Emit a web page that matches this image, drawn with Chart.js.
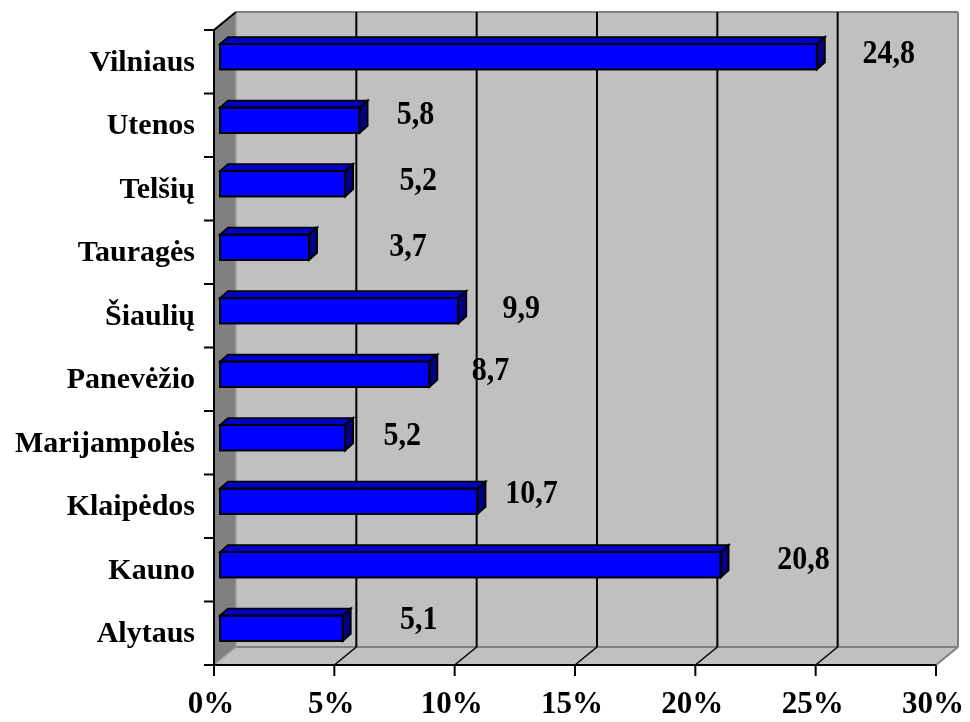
<!DOCTYPE html>
<html>
<head>
<meta charset="utf-8">
<script src="https://cdn.jsdelivr.net/npm/chart.js@4/dist/chart.umd.min.js"></script>
<style>
  html, body { margin: 0; padding: 0; background: #ffffff; }
  #wrap { width: 970px; height: 722px; }
</style>
</head>
<body>
<div id="wrap"><canvas id="c" width="970" height="722"></canvas></div>
<script>
// ---- data (top to bottom as drawn) ----
const regions = ["Vilniaus", "Utenos", "Telšių", "Tauragės", "Šiaulių", "Panevėžio", "Marijampolės", "Klaipėdos", "Kauno", "Alytaus"];
const shares  = [24.8, 5.8, 5.2, 3.7, 9.9, 8.7, 5.2, 10.7, 20.8, 5.1];
const axisMin = 0;
const axisMax = 30;
const axisStep = 5;

const FONT = '"Liberation Serif", "Times New Roman", serif';

// 3D look: bar plane sits slightly behind the front plane
const FRONT = { dx: -6, dy: 5 };   // front plane relative to bar plane
const BACK  = { dx: 16, dy: -13 }; // back wall relative to bar plane
const BAR_D = { dx: 8, dy: -7 };   // bar depth

// per-label nudges relative to bar end (label placement in original)
const labelNudge = [[72,-3],[56,-5],[73,-3],[99,0],[63,-2],[61,-3],[57,-2],[54,-7],[83,-5],[76,-8]];

function poly(ctx, pts, fill, stroke, lw) {
  ctx.beginPath();
  ctx.moveTo(pts[0][0], pts[0][1]);
  for (let i = 1; i < pts.length; i++) ctx.lineTo(pts[i][0], pts[i][1]);
  ctx.closePath();
  if (fill) { ctx.fillStyle = fill; ctx.fill(); }
  if (stroke) { ctx.strokeStyle = stroke; ctx.lineWidth = lw || 1; ctx.stroke(); }
}
function line(ctx, x1, y1, x2, y2, color, lw) {
  ctx.beginPath();
  ctx.moveTo(x1, y1); ctx.lineTo(x2, y2);
  ctx.strokeStyle = color; ctx.lineWidth = lw; ctx.stroke();
}

const box3d = {
  id: 'box3d',
  beforeDatasetsDraw(chart) {
    const ctx = chart.ctx;
    const xs = chart.scales.x, ys = chart.scales.y;
    const a = chart.chartArea;
    const x0 = xs.getPixelForValue(axisMin), x1 = xs.getPixelForValue(axisMax);
    const top = a.top, bot = a.bottom;
    ctx.save();
    ctx.lineJoin = 'miter';
    // back wall
    poly(ctx, [[x0+BACK.dx, top+BACK.dy],[x1+BACK.dx, top+BACK.dy],[x1+BACK.dx, bot+BACK.dy],[x0+BACK.dx, bot+BACK.dy]], '#C0C0C0', null);
    // left wall
    poly(ctx, [[x0+FRONT.dx, top+FRONT.dy],[x0+BACK.dx, top+BACK.dy],[x0+BACK.dx, bot+BACK.dy],[x0+FRONT.dx, bot+FRONT.dy]], '#808080', null);
    // floor
    poly(ctx, [[x0+FRONT.dx, bot+FRONT.dy],[x1+FRONT.dx, bot+FRONT.dy],[x1+BACK.dx, bot+BACK.dy],[x0+BACK.dx, bot+BACK.dy]], '#C0C0C0', null);
    // wall/floor edges (gray)
    line(ctx, x0+BACK.dx, top+BACK.dy, x1+BACK.dx, top+BACK.dy, '#808080', 2);
    line(ctx, x1+BACK.dx, top+BACK.dy, x1+BACK.dx, bot+BACK.dy, '#808080', 2);
    line(ctx, x0+BACK.dx, bot+BACK.dy, x1+BACK.dx, bot+BACK.dy, '#808080', 2);
    line(ctx, x1+FRONT.dx, bot+FRONT.dy, x1+BACK.dx, bot+BACK.dy, '#808080', 2);
    line(ctx, x0+FRONT.dx, bot+FRONT.dy, x0+BACK.dx, bot+BACK.dy, '#A0A0A0', 1.5);
    line(ctx, x0+BACK.dx, top+BACK.dy, x0+BACK.dx, bot+BACK.dy, '#A0A0A0', 1.5);
    // gridlines on back wall and floor
    xs.ticks.forEach(t => {
      if (t.value <= axisMin || t.value >= axisMax) return;
      const px = xs.getPixelForValue(t.value);
      line(ctx, px+BACK.dx, top+BACK.dy, px+BACK.dx, bot+BACK.dy, '#000000', 2);
      line(ctx, px+BACK.dx, bot+BACK.dy, px+FRONT.dx, bot+FRONT.dy, '#000000', 1.5);
    });
    // top diagonal of left wall
    line(ctx, x0+FRONT.dx, top+FRONT.dy, x0+BACK.dx, top+BACK.dy, '#000000', 2);
    // front axes
    line(ctx, x0+FRONT.dx, top+FRONT.dy, x0+FRONT.dx, bot+FRONT.dy + 1, '#000000', 2);
    line(ctx, x0+FRONT.dx - 10, bot+FRONT.dy, x1+FRONT.dx, bot+FRONT.dy, '#000000', 2);
    // category tick marks
    const n = ys.getLabels().length;
    const band = (bot - top) / n;
    for (let i = 0; i <= n; i++) {
      const y = top + FRONT.dy + i * band;
      line(ctx, x0+FRONT.dx - 10, y, x0+FRONT.dx, y, '#000000', 2);
    }
    // value tick marks
    xs.ticks.forEach(t => {
      const px = xs.getPixelForValue(t.value) + FRONT.dx;
      line(ctx, px, bot+FRONT.dy, px, bot+FRONT.dy + 11, '#000000', 2);
    });
    ctx.restore();
  },
  afterDatasetsDraw(chart) {
    const ctx = chart.ctx;
    const meta = chart.getDatasetMeta(0);
    ctx.save();
    ctx.lineJoin = 'miter';
    meta.data.forEach((el, i) => {
      const p = el.getProps(['x', 'y', 'base', 'height'], true);
      const yt = p.y - p.height / 2, yb = p.y + p.height / 2;
      // top face
      poly(ctx, [[p.base, yt],[p.x, yt],[p.x+BAR_D.dx, yt+BAR_D.dy],[p.base+BAR_D.dx, yt+BAR_D.dy]], '#0000C8', '#000000', 1.8);
      // end face
      poly(ctx, [[p.x, yt],[p.x+BAR_D.dx, yt+BAR_D.dy],[p.x+BAR_D.dx, yb+BAR_D.dy],[p.x, yb]], '#000080', '#000000', 1.8);
      // front outline
      ctx.strokeStyle = '#000000'; ctx.lineWidth = 2;
      ctx.strokeRect(p.base, yt, p.x - p.base, yb - yt);
      // value label (slightly tall, like the original's stretched type)
      const v = chart.data.datasets[0].data[i];
      const nd = labelNudge[i] || [70, -4];
      ctx.save();
      ctx.translate(p.x + nd[0], p.y + nd[1]);
      ctx.scale(1, 1.15);
      ctx.fillStyle = '#000000';
      ctx.font = 'bold 30px ' + FONT;
      ctx.textAlign = 'center';
      ctx.textBaseline = 'middle';
      ctx.fillText(v.toFixed(1).replace('.', ','), 0, 0);
      ctx.restore();
    });
    ctx.restore();
  }
};

new Chart(document.getElementById('c'), {
  type: 'bar',
  data: {
    labels: regions,
    datasets: [{
      data: shares,
      backgroundColor: '#0000FF',
      borderColor: '#000000',
      borderWidth: 0,
      barPercentage: 0.4,
      categoryPercentage: 1.0
    }]
  },
  options: {
    indexAxis: 'y',
    responsive: false,
    animation: false,
    devicePixelRatio: 1,
    layout: { padding: { top: 25, right: 28, left: 0, bottom: 0 } },
    plugins: { legend: { display: false }, tooltip: { enabled: false } },
    scales: {
      x: {
        type: 'linear',
        min: axisMin, max: axisMax,
        grid: { display: false },
        border: { display: false },
        ticks: {
          stepSize: axisStep,
          padding: 18,
          labelOffset: -9,
          color: '#000000',
          font: { family: FONT, size: 31, weight: 'bold' },
          callback: v => v + '%',
          maxRotation: 0, autoSkip: false
        },
        afterFit: s => { s.height = 62; s.paddingLeft = 0; s.paddingRight = 0; }
      },
      y: {
        grid: { display: false },
        border: { display: false },
        ticks: {
          padding: 17,
          labelOffset: 6,
          color: '#000000',
          font: { family: FONT, size: 30, weight: 'bold' },
          autoSkip: false
        },
        afterFit: s => { s.width = 220; s.paddingTop = 0; s.paddingBottom = 0; }
      }
    }
  },
  plugins: [box3d]
});
</script>
</body>
</html>
